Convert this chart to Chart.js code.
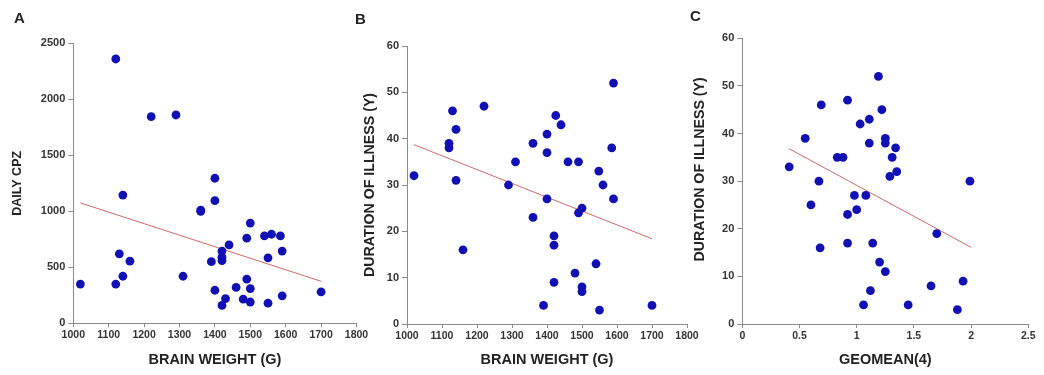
<!DOCTYPE html>
<html>
<head>
<meta charset="utf-8">
<script src="https://cdn.jsdelivr.net/npm/chart.js@4"></script>
<style>
  body { margin: 0; background: #fff; }
  .wrap { position: relative; width: 1044px; height: 375px; overflow: hidden; }
  .panel { position: absolute; top: 0; height: 375px; }
  .letter { position: absolute; font: bold 15px Arial, 'Liberation Sans', sans-serif; color: #222; }
</style>
</head>
<body>
<div class="wrap">
  <div class="panel" style="left:0;width:385px"><canvas id="chartA"></canvas></div>
  <div class="panel" style="left:340px;width:375px"><canvas id="chartB"></canvas></div>
  <div class="panel" style="left:680px;width:364px"><canvas id="chartC"></canvas></div>
  <div class="letter" style="left:14px;top:9px">A</div>
  <div class="letter" style="left:355px;top:10px">B</div>
  <div class="letter" style="left:690px;top:7px">C</div>
</div>
<script>
// panel A: brain weight vs daily CPZ
const brainA = [1020, 1120, 1220, 1290, 1140, 1130, 1160, 1140, 1120, 1310, 1400, 1400, 1360, 1360, 1390, 1400, 1420, 1420, 1420, 1440, 1430, 1420, 1460, 1480, 1490, 1500, 1500, 1490, 1500, 1540, 1560, 1585, 1550, 1590, 1550, 1590, 1700];
const cpzA = [350, 2360, 1845, 1860, 1145, 620, 555, 420, 350, 420, 1295, 1095, 1000, 1010, 550, 295, 645, 590, 560, 700, 220, 160, 320, 215, 395, 310, 190, 760, 895, 780, 795, 780, 585, 645, 180, 245, 280];
const fitA_x = [1020, 1700];
const fitA_y = [1075, 375];

// panel B: brain weight vs duration of illness
const brainB = [1020, 1120, 1120, 1130, 1140, 1140, 1160, 1220, 1290, 1310, 1360, 1360, 1390, 1400, 1400, 1400, 1420, 1420, 1420, 1425, 1440, 1460, 1480, 1490, 1490, 1500, 1500, 1500, 1540, 1548, 1550, 1560, 1585, 1590, 1590, 1700];
const durB = [32, 39, 38, 46, 42, 31, 16, 47, 30, 35, 39, 23, 4, 41, 37, 27, 19, 17, 9, 45, 43, 35, 11, 35, 24, 25, 8, 7, 13, 33, 3, 30, 38, 52, 27, 4];
const fitB_x = [1020, 1700];
const fitB_y = [38.7, 18.4];

// panel C: geomean(4) vs duration of illness
const geoC = [0.41, 0.55, 0.6, 0.67, 0.69, 0.68, 0.83, 0.88, 0.92, 0.92, 0.92, 0.98, 1.0, 1.03, 1.08, 1.06, 1.11, 1.11, 1.12, 1.14, 1.19, 1.2, 1.22, 1.25, 1.25, 1.25, 1.29, 1.31, 1.34, 1.35, 1.45, 1.65, 1.7, 1.88, 1.93, 1.99];
const durC = [33, 39, 25, 30, 46, 16, 35, 35, 47, 23, 17, 27, 24, 42, 27, 4, 43, 38, 7, 17, 52, 13, 45, 39, 38, 11, 31, 35, 37, 32, 4, 8, 19, 3, 9, 30];
const fitC_x = [0.41, 2.0];
const fitC_y = [36.8, 16.1];

const FONT = "Arial, 'Liberation Sans', sans-serif";
const AXIS = '#8a8a8a';
const DOT = '#1010b4';
const FIT = '#d06868';

function pairs(xs, ys) {
    return xs.map((x, i) => ({ x: x, y: ys[i] }));
}

function makeChart(id, cfg) {
    const ctx = document.getElementById(id).getContext('2d');
    return new Chart(ctx, {
        type: 'scatter',
        data: {
            datasets: [{
                data: pairs(cfg.xs, cfg.ys),
                backgroundColor: DOT,
                borderWidth: 0,
                pointRadius: 4.4,
                order: 1
            }, {
                type: 'line',
                data: pairs(cfg.fitX, cfg.fitY),
                borderColor: FIT,
                borderWidth: 1,
                pointRadius: 0,
                fill: false,
                order: 2
            }]
        },
        options: {
            responsive: true,
            maintainAspectRatio: false,
            animation: false,
            events: [],
            layout: { padding: { top: cfg.top, right: cfg.right, left: 0, bottom: 0 } },
            plugins: { legend: { display: false }, tooltip: { enabled: false } },
            scales: {
                x: {
                    type: 'linear',
                    min: cfg.xMin, max: cfg.xMax,
                    border: { color: AXIS, width: 1 },
                    grid: { drawOnChartArea: false, color: AXIS, tickLength: 4 },
                    ticks: {
                        stepSize: cfg.xStep, autoSkip: false, maxRotation: 0, padding: 2,
                        color: '#333', font: { family: FONT, size: 10.5, weight: 'bold' },
                        callback: value => String(value)
                    },
                    title: {
                        display: true, text: cfg.xTitle, color: '#222',
                        font: { family: FONT, size: 14.5, weight: 'bold' },
                        padding: { top: 0, bottom: 6 }
                    },
                    afterFit(scale) {
                        scale.height = cfg.xHeight;
                        scale.paddingLeft = 0;
                        scale.paddingRight = 0;
                    }
                },
                y: {
                    min: cfg.yMin, max: cfg.yMax,
                    border: { color: AXIS, width: 1 },
                    grid: { drawOnChartArea: false, color: AXIS, tickLength: 5 },
                    ticks: {
                        stepSize: cfg.yStep, autoSkip: false, padding: 3,
                        color: '#333', font: { family: FONT, size: 11, weight: 'bold' },
                        callback: value => String(value)
                    },
                    title: {
                        display: true, text: cfg.yTitle, color: '#222',
                        font: { family: FONT, size: cfg.yTitleSize, weight: 'bold' },
                        padding: { top: cfg.yTitlePad, bottom: 0 }
                    },
                    afterFit(scale) {
                        scale.width = cfg.yWidth;
                        scale.paddingTop = 0;
                        scale.paddingBottom = 0;
                    }
                }
            }
        }
    });
}

makeChart('chartA', {
    xs: brainA, ys: cpzA, fitX: fitA_x, fitY: fitA_y,
    xMin: 1000, xMax: 1800, xStep: 100, yMin: 0, yMax: 2500, yStep: 500,
    xTitle: 'BRAIN WEIGHT (G)', yTitle: 'DAILY CPZ', yTitleSize: 12.5,
    top: 43.3, right: 28.5, xHeight: 51.7, yWidth: 73.3, yTitlePad: 10
});

makeChart('chartB', {
    xs: brainB, ys: durB, fitX: fitB_x, fitY: fitB_y,
    xMin: 1000, xMax: 1800, xStep: 100, yMin: 0, yMax: 60, yStep: 10,
    xTitle: 'BRAIN WEIGHT (G)', yTitle: 'DURATION OF ILLNESS (Y)', yTitleSize: 14.2,
    top: 46, right: 28, xHeight: 51, yWidth: 67, yTitlePad: 22
});

makeChart('chartC', {
    xs: geoC, ys: durC, fitX: fitC_x, fitY: fitC_y,
    xMin: 0, xMax: 2.5, xStep: 0.5, yMin: 0, yMax: 60, yStep: 10,
    xTitle: 'GEOMEAN(4)', yTitle: '\u00a0\u00a0\u00a0\u00a0\u00a0\u00a0DURATION OF ILLNESS (Y)', yTitleSize: 14.2,
    top: 38.3, right: 15.7, xHeight: 51, yWidth: 62.3, yTitlePad: 12
});
</script>
</body>
</html>
